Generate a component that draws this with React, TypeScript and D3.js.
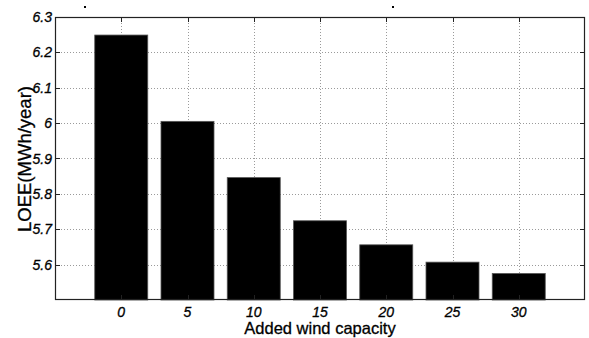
import { useEffect, useRef } from "react";
import * as d3 from "d3";

// added wind capacity (x categories)
const capacities = [0, 5, 10, 15, 20, 25, 30];
// LOEE in MWh/year
const loee = [6.249, 6.005, 5.846, 5.724, 5.656, 5.607, 5.575];
const yTicks = [5.6, 5.7, 5.8, 5.9, 6, 6.1, 6.2, 6.3];

export default function App() {
  const svgRef = useRef<SVGSVGElement>(null);

  useEffect(() => {
    const svg = d3.select(svgRef.current);
    svg.selectAll("*").remove();

    const margin = { top: 17, right: 4, bottom: 38, left: 55 };
    const width = 589;
    const height = 338;

    const x = d3.scaleLinear().domain([-5, 35]).range([margin.left, width - margin.right]);
    const y = d3.scaleLinear().domain([5.5, 6.3]).range([height - margin.bottom, margin.top]);

    const bw = (x(5) - x(0)) * 0.8;
    const x0 = x.range()[0];
    const x1 = x.range()[1];
    const y0 = y.range()[0];
    const y1 = y.range()[1];

    svg.append("rect").attr("x", x0).attr("y", y1).attr("width", x1 - x0).attr("height", y0 - y1).attr("fill", "#fff");

    // grid lines
    const grid = svg.append("g").attr("stroke", "#9a9a9a").attr("stroke-width", 1).attr("stroke-dasharray", "1,2");
    yTicks.slice(0, -1).forEach((t) => {
      grid.append("line").attr("x1", x0).attr("x2", x1).attr("y1", Math.round(y(t)) + 0.5).attr("y2", Math.round(y(t)) + 0.5);
    });
    capacities.forEach((c) => {
      grid.append("line").attr("x1", Math.round(x(c)) + 0.5).attr("x2", Math.round(x(c)) + 0.5).attr("y1", y1).attr("y2", y0);
    });

    // bars
    svg
      .append("g")
      .selectAll("rect")
      .data(loee)
      .join("rect")
      .attr("x", (_, i) => x(capacities[i]) - bw / 2)
      .attr("y", (d) => y(d))
      .attr("width", bw)
      .attr("height", (d) => y0 - y(d))
      .attr("fill", "#000")
      .attr("stroke", "#555")
      .attr("stroke-width", 0.8);

    // frame
    svg
      .append("rect")
      .attr("x", x0 + 0.5)
      .attr("y", y1 + 0.5)
      .attr("width", x1 - x0 - 1)
      .attr("height", y0 - y1 - 1)
      .attr("fill", "none")
      .attr("stroke", "#222")
      .attr("stroke-width", 1.2);

    // tick marks (inward, all four sides)
    const ticks = svg.append("g").attr("stroke", "#222").attr("stroke-width", 1);
    capacities.forEach((c) => {
      const px = Math.round(x(c)) + 0.5;
      ticks.append("line").attr("x1", px).attr("x2", px).attr("y1", y1).attr("y2", y1 + 5);
      ticks.append("line").attr("x1", px).attr("x2", px).attr("y1", y0).attr("y2", y0 - 5);
    });
    yTicks.forEach((t) => {
      const py = Math.round(y(t)) + 0.5;
      ticks.append("line").attr("x1", x0).attr("x2", x0 + 5).attr("y1", py).attr("y2", py);
      ticks.append("line").attr("x1", x1).attr("x2", x1 - 5).attr("y1", py).attr("y2", py);
    });

    const font = "'Liberation Sans', Arial, sans-serif";

    // x tick labels
    svg
      .append("g")
      .selectAll("text")
      .data(capacities)
      .join("text")
      .attr("x", (d) => x(d))
      .attr("y", 317)
      .attr("text-anchor", "middle")
      .attr("font-family", font)
      .attr("font-style", "italic")
      .attr("font-size", 14)
      .attr("stroke", "#000")
      .attr("stroke-width", 0.3)
      .text((d) => String(d));

    // y tick labels
    svg
      .append("g")
      .selectAll("text")
      .data(yTicks)
      .join("text")
      .attr("x", 52)
      .attr("y", (d) => y(d) + 5)
      .attr("text-anchor", "end")
      .attr("font-family", font)
      .attr("font-style", "italic")
      .attr("font-size", 14)
      .attr("stroke", "#000")
      .attr("stroke-width", 0.3)
      .text((d) => String(d));

    // axis titles
    svg
      .append("text")
      .attr("x", x(15))
      .attr("y", 334)
      .attr("text-anchor", "middle")
      .attr("font-family", font)
      .attr("font-size", 16.5)
      .attr("stroke", "#000")
      .attr("stroke-width", 0.3)
      .text("Added wind capacity");

    svg
      .append("text")
      .attr("transform", "translate(30.5,159) rotate(-90)")
      .attr("text-anchor", "middle")
      .attr("font-family", font)
      .attr("font-size", 18.5)
      .attr("stroke", "#000")
      .attr("stroke-width", 0.3)
      .text("LOEE(MWh/year)");

    // remnants of cropped title
    svg.append("rect").attr("x", 84).attr("y", 6).attr("width", 2).attr("height", 2).attr("fill", "#000");
    svg.append("rect").attr("x", 392).attr("y", 6).attr("width", 2).attr("height", 2).attr("fill", "#000");
  }, []);

  return (
    <svg
      ref={svgRef}
      width={589}
      height={338}
      style={{ position: "absolute", left: 0, top: 0, background: "#fff" }}
    />
  );
}
